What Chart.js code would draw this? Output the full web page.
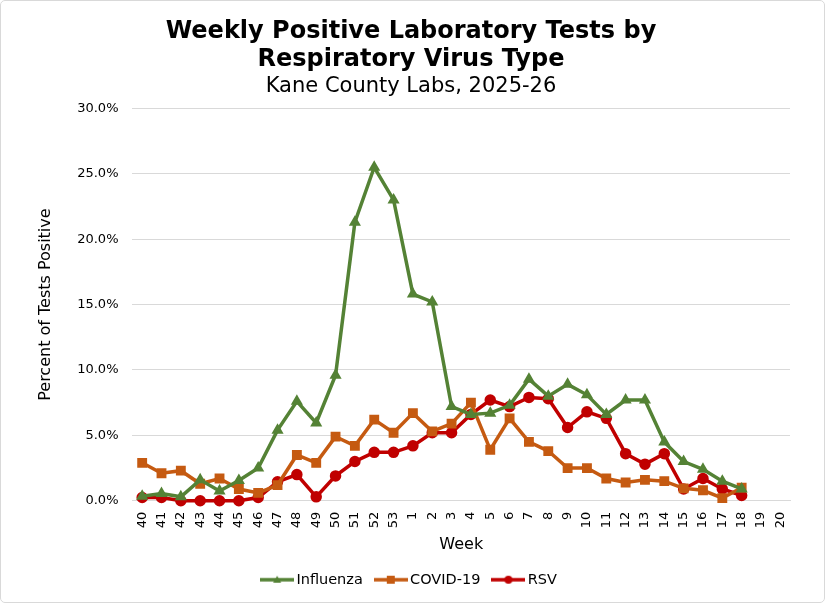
<!DOCTYPE html>
<html>
<head>
<meta charset="utf-8">
<script src="https://cdn.jsdelivr.net/npm/chart.js@4"></script>
<style>
  html, body { margin: 0; padding: 0; background: #fff; }
  #wrap { position: relative; width: 825px; height: 603px; }
  #frame { position: absolute; left: 0; top: 0; right: 0; bottom: 0; border: 1px solid #d9d9d9; border-radius: 5px; pointer-events: none; }
</style>
</head>
<body>
<div id="wrap">
  <canvas id="chart-1"></canvas>
  <div id="frame"></div>
</div>
<script>
// week numbers of the season
const weeks = ["40","41","42","43","44","45","46","47","48","49","50","51","52","53",
  "1","2","3","4","5","6","7","8","9","10","11","12","13","14","15","16","17","18","19","20"];

// percent positive
const influenza = [0.35,0.55,0.3,1.6,0.75,1.55,2.5,5.4,7.6,5.95,9.6,21.3,25.5,23.0,
  15.8,15.2,7.2,6.6,6.7,7.3,9.3,8.0,8.9,8.1,6.6,7.7,7.7,4.5,3.0,2.4,1.5,0.9];
const covid = [2.9,2.1,2.3,1.3,1.7,0.9,0.6,1.2,3.5,2.9,4.9,4.2,6.2,5.2,
  6.7,5.3,5.9,7.5,3.9,6.3,4.5,3.8,2.5,2.5,1.7,1.4,1.6,1.5,0.95,0.8,0.2,1.0];
const rsv = [0.25,0.25,0.0,0.0,0.0,0.0,0.25,1.45,2.0,0.3,1.9,3.0,3.7,3.7,
  4.2,5.2,5.2,6.6,7.7,7.2,7.9,7.8,5.6,6.8,6.3,3.6,2.8,3.6,0.9,1.7,0.9,0.4];

const GREEN = '#548235', ORANGE = '#c55a11', RED = '#c00000';

// little line+marker picture for the legend
function legendIcon(color, shape) {
  const c = document.createElement('canvas');
  c.width = 34; c.height = 12;
  const g = c.getContext('2d');
  g.strokeStyle = color; g.fillStyle = color; g.lineWidth = 3.5;
  g.beginPath(); g.moveTo(0, 6); g.lineTo(34, 6); g.stroke();
  g.beginPath();
  if (shape === 'triangle') { g.moveTo(17, 2); g.lineTo(21, 9); g.lineTo(13, 9); g.closePath(); }
  else if (shape === 'rect') { g.rect(13, 2, 8, 8); }
  else { g.arc(17, 6, 4, 0, Math.PI * 2); }
  g.fill();
  return c;
}

const ctx = document.getElementById('chart-1').getContext('2d');
const chart_1 = new Chart(ctx, {
  type: 'line',
  data: {
    labels: weeks,
    datasets: [
      { label: 'Influenza', data: influenza, borderColor: GREEN, backgroundColor: GREEN, clip: false,
        pointStyle: 'triangle', pointRadius: 3.5, borderWidth: 3.5, legendIcon: legendIcon(GREEN, 'triangle') },
      { label: 'COVID-19', data: covid, borderColor: ORANGE, backgroundColor: ORANGE, clip: false,
        pointStyle: 'rect', pointRadius: 4.5, borderWidth: 3.5, legendIcon: legendIcon(ORANGE, 'rect') },
      { label: 'RSV', data: rsv, borderColor: RED, backgroundColor: RED, clip: false,
        pointStyle: 'circle', pointRadius: 4, borderWidth: 3.5, legendIcon: legendIcon(RED, 'circle') }
    ]
  },
  options: {
    responsive: true,
    maintainAspectRatio: false,
    animation: false,
    layout: { padding: { left: 32, right: 35, top: 18, bottom: 6 } },
    elements: { line: { tension: 0 } },
    plugins: {
      title: {
        display: true,
        text: ['Weekly Positive Laboratory Tests by', 'Respiratory Virus Type'],
        color: '#000',
        font: { family: 'DejaVu Sans', size: 24, weight: 'bold', lineHeight: 1.15 },
        padding: { top: 0, bottom: 0 }
      },
      subtitle: {
        display: true,
        text: 'Kane County Labs, 2025-26',
        color: '#000',
        font: { family: 'DejaVu Sans', size: 21, lineHeight: 1.2 },
        padding: { top: 1, bottom: 9 }
      },
      legend: {
        position: 'bottom',
        labels: {
          usePointStyle: true,
          pointStyleWidth: 24,
          padding: 16,
          color: '#000',
          font: { family: 'DejaVu Sans', size: 14.5 },
          generateLabels: (chart) => chart.data.datasets.map((ds, i) => ({
            text: ds.label,
            pointStyle: ds.legendIcon,
            fillStyle: ds.borderColor,
            strokeStyle: ds.borderColor,
            lineWidth: 0,
            fontColor: '#000',
            datasetIndex: i
          }))
        }
      },
      tooltip: { enabled: false }
    },
    scales: {
      x: {
        offset: true,
        grid: { display: false, offset: true },
        border: { color: '#d9d9d9' },
        ticks: {
          autoSkip: false, minRotation: 90, maxRotation: 90,
          color: '#000', padding: 3,
          font: { family: 'DejaVu Sans', size: 13 }
        },
        title: {
          display: true, text: 'Week', color: '#000',
          font: { family: 'DejaVu Sans', size: 16 }, padding: { top: 4, bottom: 2 }
        }
      },
      y: {
        min: 0, max: 30,
        grid: { color: '#d9d9d9', drawTicks: true, tickLength: 10, tickColor: 'transparent' },
        border: { display: false },
        ticks: {
          stepSize: 5, padding: 4, color: '#000',
          font: { family: 'DejaVu Sans', size: 13 },
          callback: (v) => v.toFixed(1) + '%'
        },
        title: {
          display: true, text: 'Percent of Tests Positive', color: '#000',
          font: { family: 'DejaVu Sans', size: 16 }, padding: { bottom: 18 }
        }
      }
    }
  }
});
</script>
</body>
</html>
